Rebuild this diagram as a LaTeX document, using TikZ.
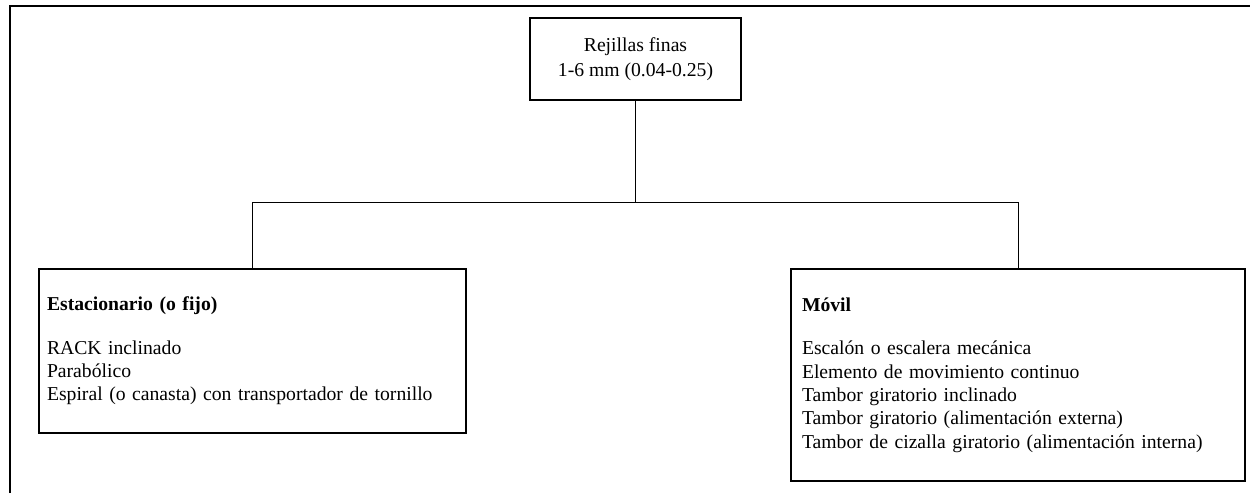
\documentclass[tikz,border=0pt]{standalone}
\usepackage{fontspec}
\setmainfont{Liberation Serif}
\usepackage{tikz}
\usetikzlibrary{positioning,calc}

\tikzset{
  box/.style={draw,line width=1.1pt,inner ysep=0pt,align=left},
  headbox/.style={draw,line width=1.1pt,align=center,
                  minimum width=126.6pt,minimum height=49.2pt},
  link/.style={line width=0.6pt},
  frame/.style={line width=1.3pt}
}

\begin{document}
\begin{tikzpicture}[x=0.6pt,y=-0.6pt,font=\fontsize{11.8}{14}\selectfont]
\useasboundingbox (0,0) rectangle (1250,493);
\draw[frame] (10,493) -- (10,6) -- (1250,6);

\node[headbox] (rejillas) at (635.5,59) {Rejillas finas\\[1pt]1-6 mm (0.04-0.25)};

\node[box,inner xsep=4.8pt,text width=246.6pt,minimum width=256.2pt,
      minimum height=98.4pt] (estacionario) at (252.5,351) {%
\textbf{Estacionario (o fijo)}\\[12pt]
RACK inclinado\\
Parabólico\\
Espiral (o canasta) con transportador de tornillo};

\node[box,inner xsep=6.6pt,text width=259.2pt,minimum width=272.4pt,
      minimum height=127.2pt] (movil) at (1018,375) {%
\textbf{Móvil}\\[12pt]
Escalón o escalera mecánica\\
Elemento de movimiento continuo\\
Tambor giratorio inclinado\\
Tambor giratorio (alimentación externa)\\
Tambor de cizalla giratorio (alimentación interna)};

% ramas
\coordinate (split) at ($(rejillas.south)+(0,102)$);
\draw[link] (rejillas.south) -- (split);
\draw[link] (estacionario.north) |- (split) -| (movil.north);
\end{tikzpicture}
\end{document}
